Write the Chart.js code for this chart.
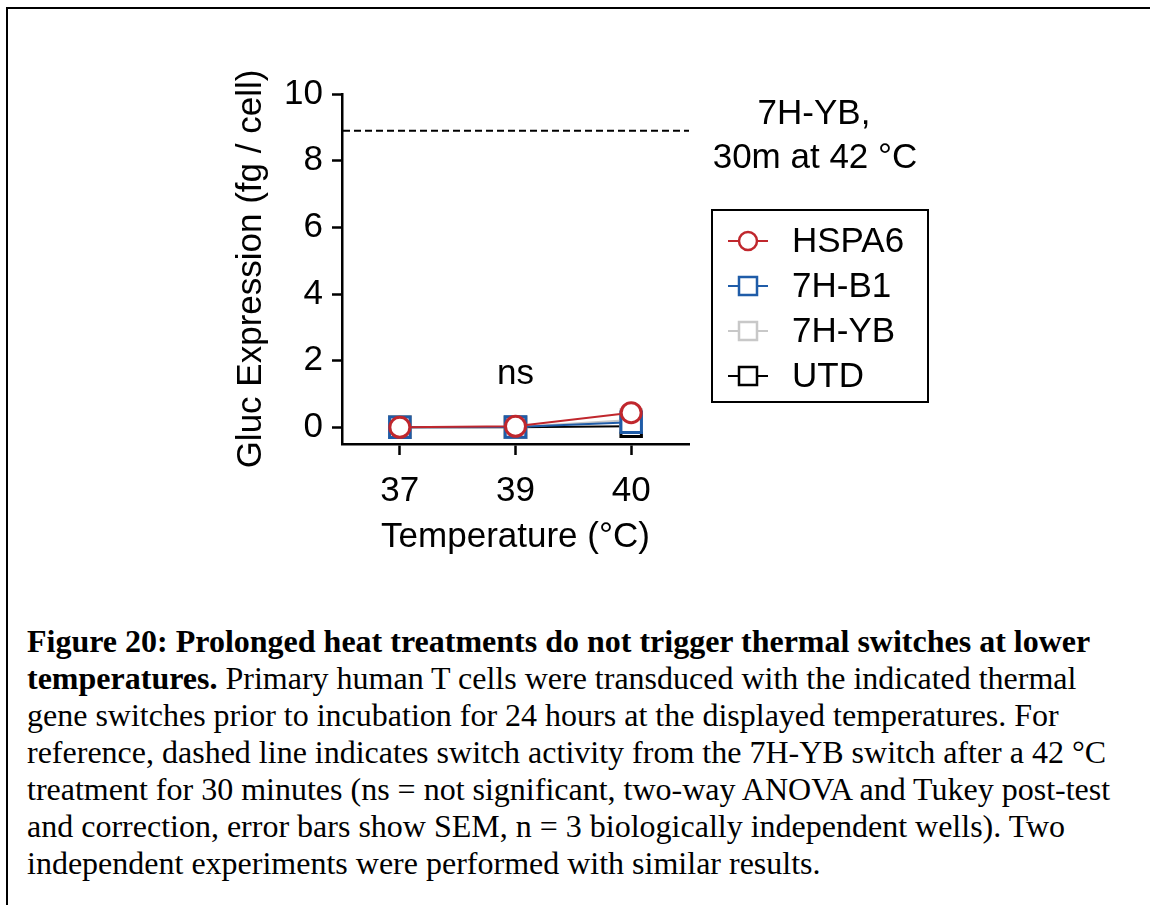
<!DOCTYPE html>
<html>
<head>
<meta charset="utf-8">
<title>Figure 20</title>
<script src="https://cdn.jsdelivr.net/npm/chart.js@4.4.1/dist/chart.umd.min.js"></script>
<style>
  body { margin: 0; background: #fff; }
  .frame { position: absolute; left: 6px; top: 7px; width: 1150px; height: 910px; border-left: 2px solid #000; border-top: 2px solid #000; }
  #wrap { position: absolute; left: 0; top: 0; width: 1150px; height: 600px; }
  .caption { position: absolute; left: 27px; top: 623px; font-family: 'Liberation Serif', 'Times New Roman', serif; font-size: 32px; line-height: 37px; white-space: nowrap; color: #000; }
</style>
</head>
<body>
<div class="frame"></div>
<div id="wrap"><canvas id="myChart"></canvas></div>
<div class="caption">
  <div><b>Figure 20: Prolonged heat treatments do not trigger thermal switches at lower</b></div>
  <div><b>temperatures.</b> Primary human T cells were transduced with the indicated thermal</div>
  <div>gene switches prior to incubation for 24 hours at the displayed temperatures. For</div>
  <div>reference, dashed line indicates switch activity from the 7H-YB switch after a 42 °C</div>
  <div>treatment for 30 minutes (ns = not significant, two-way ANOVA and Tukey post-test</div>
  <div>and correction, error bars show SEM, n = 3 biologically independent wells). Two</div>
  <div>independent experiments were performed with similar results.</div>
</div>
<script>
  var temps = ['37', '39', '40'];
  var hspa6 = [0, 0.03, 0.44];
  var h7b1 = [0, 0.01, 0.15];
  var h7yb = [0, 0.01, 0.22];
  var utd = [0, 0, 0.03];
  var yTicks = [0, 2, 4, 6, 8, 10];
  var refValue = 8.9;          // 7H-YB after 30m at 42 °C
  var refLabel = ['7H-YB,', '30m at 42 °C'];
  var sigLabel = 'ns';
  var sigAt = ['39', 1.6];

  var FONT = "'Liberation Sans', Arial, Helvetica, sans-serif";
  var FS = 35;
  var RED = '#c0272d', BLUE = '#1f5ca8', GREY = '#c8c8c8', BLACK = '#000';

  function series(label, data, color, style, r) {
    return {
      label: label,
      data: data,
      borderColor: color,
      borderWidth: 2,
      pointStyle: style,
      pointRadius: r,
      pointHoverRadius: r,
      pointBorderWidth: 3,
      pointBorderColor: color,
      pointBackgroundColor: '#fff',
      fill: false,
      tension: 0
    };
  }

  var extras = {
    id: 'extras',
    afterDatasetsDraw: function(chart) {
      var ctx = chart.ctx, xs = chart.scales.x, ys = chart.scales.y, a = chart.chartArea;
      ctx.save();
      // dashed reference line
      var yr = ys.getPixelForValue(refValue);
      ctx.strokeStyle = '#000';
      ctx.lineWidth = 2;
      ctx.setLineDash([7, 4]);
      ctx.beginPath();
      ctx.moveTo(a.left + 1, yr);
      ctx.lineTo(a.right, yr);
      ctx.stroke();
      ctx.setLineDash([]);

      ctx.fillStyle = '#000';
      ctx.font = FS + 'px ' + FONT;
      ctx.textAlign = 'center';
      ctx.textBaseline = 'middle';
      ctx.fillText(sigLabel, xs.getPixelForValue(temps.indexOf(sigAt[0])), ys.getPixelForValue(sigAt[1]));

      ctx.fillText(refLabel[0], a.right + 125, 114);
      ctx.fillText(refLabel[1], a.right + 126, 158);

      // legend box
      var lx = a.right + 23, ly = 210, lw = 216, lh = 192;
      ctx.lineWidth = 2;
      ctx.strokeRect(lx, ly, lw, lh);
      chart.data.datasets.forEach(function(ds, i) {
        var cy = ly + 31 + i * 45;
        var cx = lx + 36;
        ctx.strokeStyle = ds.borderColor;
        ctx.lineWidth = 2;
        ctx.beginPath();
        ctx.moveTo(cx - 20, cy);
        ctx.lineTo(cx + 20, cy);
        ctx.stroke();
        ctx.lineWidth = 2.5;
        ctx.fillStyle = '#fff';
        ctx.beginPath();
        if (ds.pointStyle === 'circle') {
          ctx.arc(cx, cy, 9, 0, Math.PI * 2);
        } else {
          ctx.rect(cx - 9, cy - 9, 18, 18);
        }
        ctx.fill();
        ctx.stroke();
        ctx.fillStyle = '#000';
        ctx.textAlign = 'left';
        ctx.fillText(ds.label, lx + 80, cy + 1);
      });
      ctx.restore();
    }
  };

  var ctx = document.getElementById('myChart');
  new Chart(ctx, {
    type: 'line',
    data: {
      labels: temps,
      datasets: [
        series('HSPA6', hspa6, RED, 'circle', 10),
        series('7H-B1', h7b1, BLUE, 'rect', 14.5),
        series('7H-YB', h7yb, GREY, 'rect', 14.5),
        series('UTD', utd, BLACK, 'rect', 14.5)
      ]
    },
    options: {
      responsive: true,
      maintainAspectRatio: false,
      animation: false,
      layout: { padding: { left: 0, top: 94, right: 461, bottom: 0 } },
      plugins: { legend: { display: false }, tooltip: { enabled: false } },
      scales: {
        x: {
          offset: true,
          grid: { display: true, drawOnChartArea: false, tickLength: 11, tickWidth: 2.5, tickColor: '#000' },
          border: { color: '#000', width: 2.5 },
          ticks: { color: '#000', font: { family: FONT, size: FS }, padding: 15, maxRotation: 0 },
          title: { display: true, text: 'Temperature (°C)', color: '#000', font: { family: FONT, size: FS }, padding: { bottom: 42 } },
          afterFit: function(s) { s.height = 156; }
        },
        y: {
          min: -0.5,
          max: 10,
          afterBuildTicks: function(s) { s.ticks = yTicks.map(function(v) { return { value: v }; }); },
          grid: { display: true, drawOnChartArea: false, tickLength: 10, tickWidth: 2.5, tickColor: '#000' },
          border: { color: '#000', width: 2.5 },
          ticks: { color: '#000', font: { family: FONT, size: FS }, padding: 9 },
          title: { display: true, text: 'Gluc Expression (fg / cell)', color: '#000', font: { family: FONT, size: FS }, padding: { top: 230 } },
          afterFit: function(s) { s.width = 342; }
        }
      }
    },
    plugins: [extras]
  });
</script>
</body>
</html>
